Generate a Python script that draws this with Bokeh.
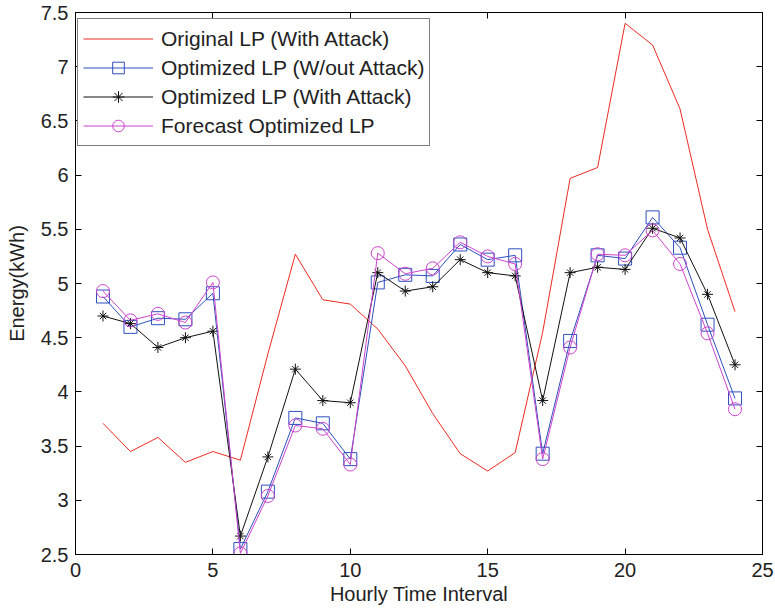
from bokeh.plotting import figure
from bokeh.models import LinearAxis, FixedTicker, Range1d, Legend, LegendItem
from bokeh.embed import file_html
from bokeh.resources import INLINE

hours = list(range(1, 25))
original_lp = [3.71, 3.45, 3.58, 3.35, 3.45, 3.37, 4.35, 5.27, 4.85, 4.81, 4.58, 4.24,
               3.80, 3.43, 3.27, 3.44, 4.55, 5.97, 6.07, 7.40, 7.20, 6.61, 5.50, 4.74]
optimized_no_attack = [4.88, 4.60, 4.68, 4.67, 4.91, 2.55, 3.08, 3.76, 3.71, 3.38, 5.01, 5.08,
                       5.07, 5.36, 5.22, 5.26, 3.43, 4.47, 5.26, 5.23, 5.61, 5.33, 4.62, 3.94]
optimized_attack = [4.70, 4.63, 4.41, 4.50, 4.56, 2.67, 3.40, 4.21, 3.92, 3.90, 5.10, 4.93,
                    4.97, 5.22, 5.10, 5.07, 3.92, 5.10, 5.15, 5.13, 5.51, 5.42, 4.90, 4.25]
forecast_optimized = [4.93, 4.66, 4.72, 4.64, 5.01, 2.51, 3.04, 3.69, 3.66, 3.33, 5.28, 5.09,
                      5.14, 5.38, 5.25, 5.18, 3.38, 4.41, 5.27, 5.26, 5.49, 5.18, 4.54, 3.84]

x_ticks = [0, 5, 10, 15, 20, 25]
y_ticks = [2.5, 3, 3.5, 4, 4.5, 5, 5.5, 6, 6.5, 7, 7.5]
y_tick_labels = ["2.5", "3", "3.5", "4", "4.5", "5", "5.5", "6", "6.5", "7", "7.5"]
labels = ["Original LP (With Attack)", "Optimized LP (W/out Attack)",
          "Optimized LP (With Attack)", "Forecast Optimized LP"]

FONT = "Liberation Sans"
FS = "20px"
LEG_FS = "21px"

p = figure(width=775, height=613, output_backend="svg", toolbar_location=None,
           x_range=Range1d(0, 25), y_range=Range1d(2.5, 7.5),
           min_border_left=75, min_border_right=13, min_border_top=12, min_border_bottom=59)
p.background_fill_color = "white"
p.border_fill_color = "white"
p.outline_line_color = "black"
p.outline_line_width = 1
p.xgrid.visible = False
p.ygrid.visible = False

p.xaxis.axis_label = "Hourly Time Interval"
p.yaxis.axis_label = "Energy(kWh)"

def style_axis(ax, show_labels=True):
    ax.axis_line_color = "black"
    ax.major_tick_line_color = "black"
    ax.major_tick_in = 6
    ax.major_tick_out = 0
    ax.minor_tick_line_color = None
    ax.major_label_text_font = FONT
    ax.major_label_text_color = "#222222"
    ax.axis_label_text_font = FONT
    ax.axis_label_text_font_style = "normal"
    ax.axis_label_text_color = "#222222"
    ax.axis_label_text_font_size = FS
    ax.major_label_text_font_size = FS

for ax in p.xaxis:
    style_axis(ax)
    ax.ticker = FixedTicker(ticks=x_ticks)
    ax.major_label_standoff = 8
    ax.axis_label_standoff = 3
for ax in p.yaxis:
    style_axis(ax)
    ax.ticker = FixedTicker(ticks=y_ticks)
    ax.major_label_overrides = {t: l for t, l in zip(y_ticks, y_tick_labels)}
    ax.major_label_standoff = 7
    ax.axis_label_standoff = 10

# mirrored tick marks (MATLAB box style) without labels
top_ax = LinearAxis(ticker=FixedTicker(ticks=x_ticks))
style_axis(top_ax)
top_ax.major_label_overrides = {t: "" for t in x_ticks}
top_ax.major_label_text_font_size = "1px"
top_ax.major_label_standoff = 0
p.add_layout(top_ax, "above")
right_ax = LinearAxis(ticker=FixedTicker(ticks=y_ticks))
style_axis(right_ax)
right_ax.major_label_overrides = {t: "" for t in y_ticks}
right_ax.major_label_text_font_size = "1px"
right_ax.major_label_standoff = 0
p.add_layout(right_ax, "right")

RED = "#ee2a22"
BLUE = "#2f4fbf"
BLACK = "#111111"
MAG = "#cc44cc"

r1 = p.line(hours, original_lp, line_color=RED, line_width=1)

r2l = p.line(hours, optimized_no_attack, line_color=BLUE, line_width=1)
r2m = p.scatter(hours, optimized_no_attack, marker="square", size=13, fill_color=None,
                line_color=BLUE, line_width=1)

r3l = p.line(hours, optimized_attack, line_color=BLACK, line_width=1)
r3a = p.scatter(hours, optimized_attack, marker="cross", size=11, line_color=BLACK, line_width=1)
r3b = p.scatter(hours, optimized_attack, marker="x", size=9, line_color=BLACK, line_width=1)

r4l = p.line(hours, forecast_optimized, line_color=MAG, line_width=1)
r4m = p.scatter(hours, forecast_optimized, marker="circle", size=13, fill_color=None,
                line_color=MAG, line_width=1)

legend = Legend(items=[
    LegendItem(label=labels[0], renderers=[r1]),
    LegendItem(label=labels[1], renderers=[r2l, r2m]),
    LegendItem(label=labels[2], renderers=[r3l, r3a, r3b]),
    LegendItem(label=labels[3], renderers=[r4l, r4m]),
], location=(2, 408))
legend.label_text_font = FONT
legend.label_text_font_size = LEG_FS
legend.label_text_color = "#222222"
legend.border_line_color = "black"
legend.border_line_width = 1
legend.background_fill_color = "white"
legend.background_fill_alpha = 1
legend.padding = 5
legend.spacing = 0
legend.label_height = 29
legend.glyph_height = 29
legend.glyph_width = 70
legend.label_standoff = 8
legend.margin = 0
p.add_layout(legend, "center")

open("out.html", "w").write(file_html(p, INLINE))
